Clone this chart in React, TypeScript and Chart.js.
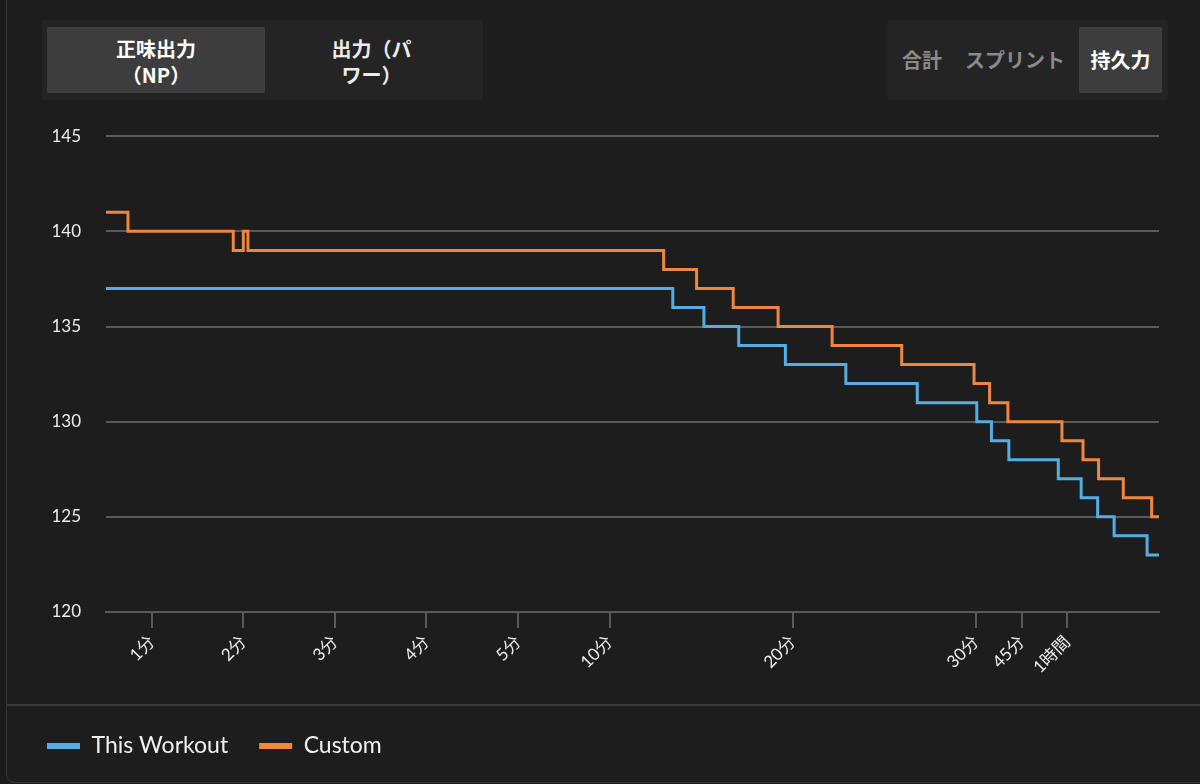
import React, { useEffect, useRef } from 'react';
import { Chart, registerables } from 'chart.js';

Chart.register(...registerables);

// ---- data ----
const seriesNames = ['This Workout', 'Custom'];
const seriesColors = ['#55ade4', '#ef873c'];

// x positions are in axis units (1 = 1分 tick ... 11 = 1時間 tick)
const workoutX = [0.5, 6.69, 7.03, 7.41, 7.92, 8.58, 9.36, 10.01, 10.17, 10.36, 10.9, 11.15, 11.33, 11.51, 11.87, 12];
const workoutY = [137, 136, 135, 134, 133, 132, 131, 130, 129, 128, 127, 126, 125, 124, 123, 123];

const customX = [0.5, 0.74, 1.89, 2.0, 2.05, 6.59, 6.95, 7.35, 7.84, 8.43, 9.19, 9.98, 10.15, 10.35, 10.94, 11.17, 11.34, 11.61, 11.92, 12];
const customY = [141, 140, 139, 140, 139, 138, 137, 136, 135, 134, 133, 132, 131, 130, 129, 128, 127, 126, 125, 125];

const xTickValues = [1, 2, 3, 4, 5, 6, 8, 10, 10.5, 11];
const xTickLabels = ['1分', '2分', '3分', '4分', '5分', '10分', '20分', '30分', '45分', '1時間'];

const yMin = 120;
const yMax = 145;
const yStep = 5;

const leftTabs = [['正味出力', '（NP）'], ['出力（パ', 'ワー）']];
const rightTabs = ['合計', 'スプリント', '持久力'];

const FONT = 'Lato, "Noto Sans CJK JP", sans-serif';
const CJK = '"Noto Sans CJK JP", "Noto Sans", sans-serif';

function ChartCanvas() {
  const ref = useRef<HTMLCanvasElement | null>(null);
  useEffect(() => {
    if (!ref.current) return;
    const gridColor = '#5a5a5a';
    const chart = new Chart(ref.current, {
      type: 'line',
      data: {
        datasets: [
          {
            label: seriesNames[0],
            data: workoutX.map((x, i) => ({ x, y: workoutY[i] })),
            borderColor: seriesColors[0],
            backgroundColor: seriesColors[0],
            borderWidth: 3,
            pointRadius: 0,
            stepped: true,
            fill: false,
          },
          {
            label: seriesNames[1],
            data: customX.map((x, i) => ({ x, y: customY[i] })),
            borderColor: seriesColors[1],
            backgroundColor: seriesColors[1],
            borderWidth: 3,
            pointRadius: 0,
            stepped: true,
            fill: false,
          },
        ],
      },
      options: {
        animation: false,
        responsive: true,
        maintainAspectRatio: false,
        layout: { padding: { left: 16, right: 41, top: 17, bottom: 16.5 } },
        plugins: {
          tooltip: { enabled: false },
          legend: {
            position: 'bottom',
            align: 'start',
            labels: {
              boxWidth: 33,
              boxHeight: 6,
              padding: 31,
              color: '#f2f2f2',
              font: { family: FONT, size: 23 },
              generateLabels: (c: any) =>
                Chart.defaults.plugins.legend.labels.generateLabels(c).map((l: any) => ({ ...l, lineWidth: 0 })),
            },
          },
        },
        scales: {
          x: {
            type: 'linear',
            min: 0.5,
            max: 12,
            afterBuildTicks: (scale: any) => {
              scale.ticks = xTickValues.map((v) => ({ value: v }));
            },
            afterFit: (scale: any) => {
              scale.height = 91.5;
            },
            ticks: {
              autoSkip: false,
              maxRotation: 45,
              minRotation: 45,
              padding: 4,
              color: '#eeeeee',
              font: { family: FONT, size: 17 },
              callback: (v: any) => {
                const i = xTickValues.indexOf(Number(v));
                return i >= 0 ? xTickLabels[i] : '';
              },
            },
            grid: {
              drawOnChartArea: false,
              drawTicks: true,
              tickLength: 16,
              color: gridColor,
              lineWidth: 2,
            },
            border: { display: true, color: gridColor, width: 2 },
          },
          y: {
            min: yMin,
            max: yMax,
            afterFit: (scale: any) => {
              scale.width = 90;
            },
            ticks: {
              stepSize: yStep,
              padding: 25,
              color: '#eeeeee',
              font: { family: FONT, size: 17 },
            },
            grid: {
              color: gridColor,
              lineWidth: 2,
              drawTicks: false,
            },
            border: { display: false },
          },
        },
      },
    });
    return () => chart.destroy();
  }, []);
  return <canvas ref={ref} />;
}

export default function App() {
  const tabText: React.CSSProperties = {
    position: 'absolute',
    fontFamily: CJK,
    fontWeight: 700,
    fontSize: 20,
    textAlign: 'center',
    whiteSpace: 'nowrap',
  };
  return (
    <div
      style={{
        position: 'fixed',
        left: 0,
        top: 0,
        width: 1200,
        height: 784,
        background: '#1b1b1b',
        overflow: 'hidden',
      }}
    >
      <div
        style={{
          position: 'absolute',
          left: 6,
          top: -20,
          width: 1230,
          height: 803,
          boxSizing: 'border-box',
          border: '1px solid #363636',
          borderRadius: 8,
          background: '#1d1d1d',
        }}
      />
      {/* left tab group */}
      <div style={{ position: 'absolute', left: 42, top: 20, width: 441, height: 80, background: '#242424', borderRadius: 4 }} />
      <div style={{ position: 'absolute', left: 47, top: 27, width: 218, height: 66, background: '#3d3d3d', borderRadius: 2 }} />
      <div style={{ ...tabText, left: 47, top: 36, width: 218, lineHeight: '26px', color: '#ffffff' }}>
        {leftTabs[0][0]}
        <br />
        {leftTabs[0][1]}
      </div>
      <div style={{ ...tabText, left: 265, top: 36, width: 213, lineHeight: '26px', color: '#ececec' }}>
        {leftTabs[1][0]}
        <br />
        {leftTabs[1][1]}
      </div>
      {/* right tab group */}
      <div style={{ position: 'absolute', left: 887, top: 20, width: 281, height: 80, background: '#242424', borderRadius: 4 }} />
      <div style={{ position: 'absolute', left: 1079, top: 27, width: 83, height: 66, background: '#3d3d3d', borderRadius: 2 }} />
      <div style={{ ...tabText, left: 892, top: 47, width: 60, lineHeight: '26px', color: '#8a8a8a' }}>{rightTabs[0]}</div>
      <div style={{ ...tabText, left: 955, top: 47, width: 120, lineHeight: '26px', color: '#8a8a8a' }}>{rightTabs[1]}</div>
      <div style={{ ...tabText, left: 1079, top: 47, width: 83, lineHeight: '26px', color: '#ffffff' }}>{rightTabs[2]}</div>
      {/* separator */}
      <div style={{ position: 'absolute', left: 7, top: 704, width: 1200, height: 2, background: '#383838' }} />
      {/* chart */}
      <div style={{ position: 'absolute', left: 0, top: 101, width: 1200, height: 683 }}>
        <ChartCanvas />
      </div>
    </div>
  );
}
